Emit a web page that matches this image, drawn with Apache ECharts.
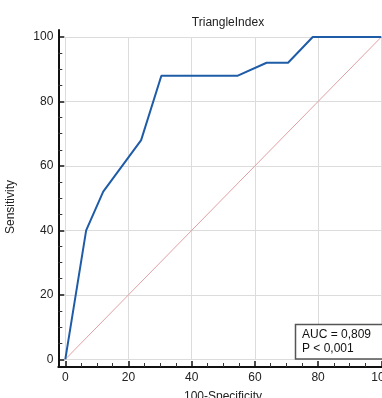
<!DOCTYPE html>
<html><head><meta charset="utf-8">
<script src="https://cdn.jsdelivr.net/npm/echarts@6/dist/echarts.min.js"></script>
<style>html,body{margin:0;padding:0;background:#fff}#c{width:382px;height:398px}</style>
</head><body><div id="c"></div>
<script>
const specificity100 = [0, 6.6, 12, 24, 30.4, 54.6, 63.7, 70.5, 78.3, 100];
const sensitivity = [0, 40, 52, 68, 88, 88, 92, 92, 100, 100];
const diagonal = [[0, 0], [100, 100]];
const xTicks = [0, 20, 40, 60, 80, 100];
const yTicks = [0, 20, 40, 60, 80, 100];
const titleText = 'TriangleIndex';
const xName = '100-Specificity';
const yName = 'Sensitivity';
const statLines = ['AUC = 0,809', 'P < 0,001'];

const font = 'Liberation Sans, Arial, sans-serif';
const chart = echarts.init(document.getElementById('c'), null, {renderer: 'canvas'});
const rocData = specificity100.map((x, i) => [x, sensitivity[i]]);

chart.setOption({
  animation: false,
  title: {text: titleText, left: 223, top: 12, textAlign: 'center',
    textStyle: {fontFamily: font, fontSize: 12, fontWeight: 'normal', color: '#222'}},
  grid: [
    {left: 58.3, top: 30, right: -6, bottom: 31, containLabel: false, outerBoundsMode: 'none'},
    {left: 65.3, top: 37, right: 0.7, bottom: 38.7, containLabel: false, outerBoundsMode: 'none'}
  ],
  xAxis: [
    {type: 'value', gridIndex: 0, min: -2.2, max: 102.2,
      axisLine: {show: true, onZero: false, lineStyle: {color: '#111', width: 2}},
      axisTick: {show: false}, axisLabel: {show: false}, splitLine: {show: false}},
    {type: 'value', gridIndex: 1, min: xTicks[0], max: xTicks[xTicks.length - 1], interval: 20,
      offset: 7.7,
      axisLine: {show: false, onZero: false},
      axisTick: {show: true, inside: true, length: 6, lineStyle: {color: '#111', width: 1.5}},
      minorTick: {show: true, splitNumber: 4, length: 4, lineStyle: {color: '#333', width: 1}},
      axisLabel: {show: true, margin: 5, color: '#222', fontFamily: font, fontSize: 12, hideOverlap: false},
      splitLine: {show: true, lineStyle: {color: '#dcdcdc', width: 1}}}
  ],
  yAxis: [
    {type: 'value', gridIndex: 0, min: -2.2, max: 102.2,
      axisLine: {show: true, onZero: false, lineStyle: {color: '#111', width: 2}},
      axisTick: {show: false}, axisLabel: {show: false}, splitLine: {show: false}},
    {type: 'value', gridIndex: 1, min: yTicks[0], max: yTicks[yTicks.length - 1], interval: 20,
      offset: 7,
      axisLine: {show: false, onZero: false},
      axisTick: {show: true, inside: true, length: 6, lineStyle: {color: '#111', width: 1.5}},
      minorTick: {show: true, splitNumber: 4, length: 4, lineStyle: {color: '#333', width: 1}},
      axisLabel: {show: true, margin: 5, color: '#222', fontFamily: font, fontSize: 12},
      splitLine: {show: true, lineStyle: {color: '#dcdcdc', width: 1}}}
  ],
  series: [
    {type: 'line', xAxisIndex: 1, yAxisIndex: 1, data: diagonal, symbol: 'none',
      lineStyle: {color: '#e0a0a4', width: 1}, z: 2},
    {type: 'line', xAxisIndex: 1, yAxisIndex: 1, data: rocData, symbol: 'none',
      lineStyle: {color: '#1f5ca8', width: 2}, z: 3}
  ],
  graphic: [
    {type: 'text', x: 11, y: 207, rotation: Math.PI / 2, style: {text: yName,
      fill: '#222', font: '12px ' + font, textAlign: 'center', textVerticalAlign: 'middle'}},
    {type: 'text', x: 223, y: 391, style: {text: xName, fill: '#222', font: '12px ' + font,
      textAlign: 'center', textVerticalAlign: 'top'}},
    {type: 'rect', shape: {x: 295.5, y: 324.5, width: 90, height: 34.5},
      style: {fill: '#fff', stroke: '#555', lineWidth: 1.5}, z: 10},
    {type: 'text', x: 302, y: 335, style: {text: statLines[0], fill: '#111', font: '12px ' + font,
      textVerticalAlign: 'middle'}, z: 11},
    {type: 'text', x: 302, y: 349, style: {text: statLines[1], fill: '#111', font: '12px ' + font,
      textVerticalAlign: 'middle'}, z: 11}
  ]
});
</script></body></html>
